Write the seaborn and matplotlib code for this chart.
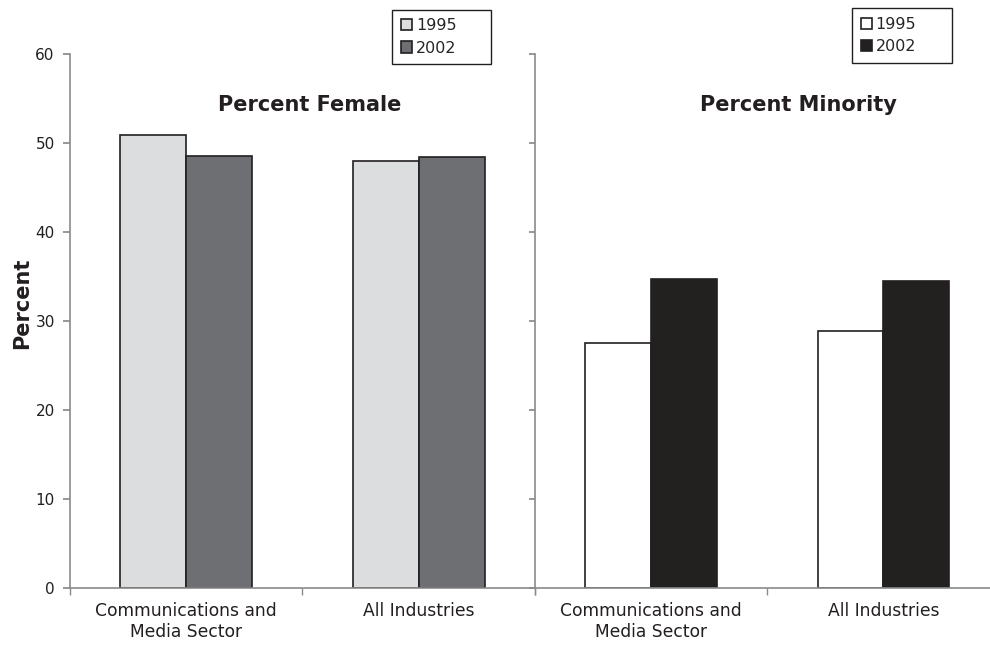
import pandas as pd
import matplotlib
matplotlib.use('Agg')
import matplotlib.pyplot as plt
import seaborn as sns

sns.set_theme(style='white')
plt.rcParams['font.family'] = ['DejaVu Sans']

# данные
categories = ['Communications and\nMedia Sector', 'All Industries']
years = ['1995', '2002']
female_1995 = [50.9, 48.0]
female_2002 = [48.6, 48.5]
minority_1995 = [27.6, 28.9]
minority_2002 = [34.8, 34.5]

TEXT = '#231f20'
AXIS = '#8a8a8a'


def make_df(v1995, v2002):
    rows = []
    for cat, a, b in zip(categories, v1995, v2002):
        rows.append({'category': cat, 'year': years[0], 'value': a})
        rows.append({'category': cat, 'year': years[1], 'value': b})
    return pd.DataFrame(rows)


fig = plt.figure(figsize=(9.9, 6.45), dpi=100)
ax1 = fig.add_axes([0.0707, 0.0879, 0.4697, 0.8279])
ax2 = fig.add_axes([0.540, 0.0879, 0.4697, 0.8279])

panels = [
    (ax1, make_df(female_1995, female_2002), {'1995': '#dcdddf', '2002': '#6e6f72'},
     'Percent Female', 310 / 990, (0.6925, 0.978, 0.213, 0.1086)),
    (ax2, make_df(minority_1995, minority_2002), {'1995': '#ffffff', '2002': '#231f20'},
     'Percent Minority', 798 / 990, (0.682, 0.9805, 0.215, 0.1086)),
]

for ax, df, pal, title, tx, legbox in panels:
    sns.barplot(data=df, x='category', y='value', hue='year', palette=pal,
                width=0.566, edgecolor=TEXT, linewidth=1.2, ax=ax)
    ax.set_xlim(-0.5, 1.5)
    ax.set_ylim(0, 60)
    ax.set_yticks(range(0, 61, 10))
    ax.set_xlabel('')
    ax.set_ylabel('')
    for s in ['top', 'right']:
        ax.spines[s].set_visible(False)
    for s in ['left', 'bottom']:
        ax.spines[s].set_color(AXIS)
        ax.spines[s].set_linewidth(1.2)
    # засечки на границах категорий
    ax.set_xticks([-0.5, 0.5, 1.5], minor=True)
    ax.tick_params(axis='x', which='major', length=0, pad=10, labelsize=12.3, labelcolor=TEXT)
    ax.tick_params(axis='x', which='minor', length=5, color=AXIS, direction='out', bottom=True)
    ax.tick_params(axis='y', length=5, color=AXIS, direction='out', left=True,
                   labelsize=11, labelcolor=TEXT, pad=6)
    fig.text(tx, 1 - 105 / 645, title, ha='center', va='center',
             fontsize=15, fontweight='bold', color=TEXT)
    sns.move_legend(ax, 'center', bbox_to_anchor=legbox, mode='expand', title=None,
                    frameon=True, fancybox=False, edgecolor=TEXT, framealpha=1,
                    fontsize=11.5, handlelength=0.7, handleheight=0.7, handletextpad=0.25,
                    labelspacing=0.45, borderpad=0.55, borderaxespad=0)
    ax.get_legend().get_frame().set_linewidth(1.0)

ax2.tick_params(axis='y', labelleft=False, length=4)
ax1.set_ylabel('Percent', fontsize=15, fontweight='bold', color=TEXT)
ax1.yaxis.set_label_coords(-0.081, 0.534)

fig.savefig('out.png', dpi=100, facecolor='white')
